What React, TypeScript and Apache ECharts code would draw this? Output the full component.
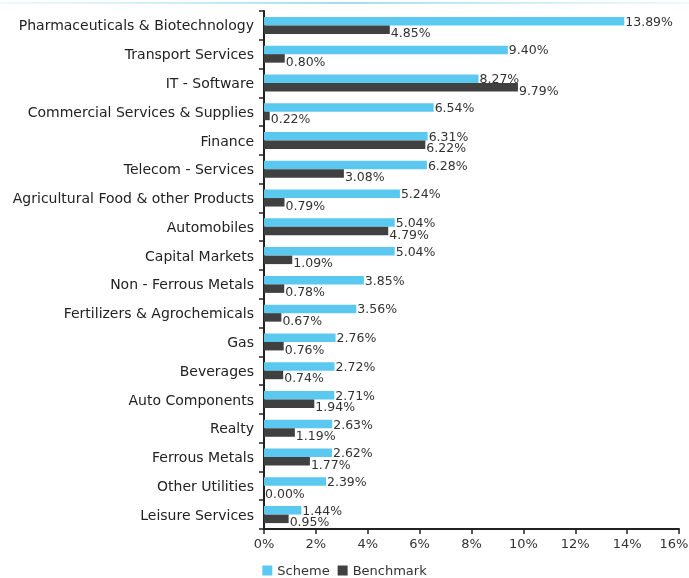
import React, { useEffect, useRef } from "react";
import * as echarts from "echarts";

const categories = [
  "Pharmaceuticals & Biotechnology",
  "Transport Services",
  "IT - Software",
  "Commercial Services & Supplies",
  "Finance",
  "Telecom - Services",
  "Agricultural Food & other Products",
  "Automobiles",
  "Capital Markets",
  "Non - Ferrous Metals",
  "Fertilizers & Agrochemicals",
  "Gas",
  "Beverages",
  "Auto Components",
  "Realty",
  "Ferrous Metals",
  "Other Utilities",
  "Leisure Services",
];
const schemeValues = [13.89, 9.4, 8.27, 6.54, 6.31, 6.28, 5.24, 5.04, 5.04, 3.85, 3.56, 2.76, 2.72, 2.71, 2.63, 2.62, 2.39, 1.44];
const benchmarkValues = [4.85, 0.8, 9.79, 0.22, 6.22, 3.08, 0.79, 4.79, 1.09, 0.78, 0.67, 0.76, 0.74, 1.94, 1.19, 1.77, 0.0, 0.95];
const seriesNames = ["Scheme", "Benchmark"];

const FONT = "DejaVu Sans";

export default function App() {
  const ref = useRef<HTMLDivElement>(null);
  useEffect(() => {
    if (!ref.current) return;
    const chart = echarts.init(ref.current, null, { renderer: "svg" });
    const labelStyle = {
      show: true,
      position: "right" as const,
      distance: 1,
      color: "#333",
      fontSize: 12.5,
      fontFamily: FONT,
      formatter: (p: any) => Number(p.value).toFixed(2) + "%",
    };
    chart.setOption({
      animation: false,
      textStyle: { fontFamily: FONT },
      graphic: [
        {
          type: "rect",
          left: 0,
          top: 2,
          shape: { width: 689, height: 2 },
          style: {
            fill: new echarts.graphic.LinearGradient(0, 0, 1, 0, [
              { offset: 0, color: "rgba(200,235,248,0.3)" },
              { offset: 0.5, color: "rgba(160,220,242,1)" },
              { offset: 1, color: "rgba(200,235,248,0.3)" },
            ]),
          },
        },
      ],
      legend: {
        top: 559,
        left: "center",
        itemWidth: 10,
        itemHeight: 10,
        itemGap: 8,
        icon: "rect",
        textStyle: { color: "#333", fontSize: 13, fontFamily: FONT },
        data: seriesNames,
      },
      grid: {
        left: 264,
        right: 10,
        top: 11,
        bottom: 49,
        containLabel: false,
        outerBoundsMode: "none",
      },
      xAxis: {
        type: "value",
        min: 0,
        max: 16,
        interval: 2,
        axisLine: { show: true, lineStyle: { color: "#222", width: 2 } },
        axisTick: { show: true, length: 5, lineStyle: { color: "#222", width: 1.5 } },
        splitLine: { show: false },
        axisLabel: {
          color: "#333",
          fontSize: 13,
          margin: 8,
          fontFamily: FONT,
          formatter: (v: number) => (v === 16 ? "{r|" + v + "%}" : v + "%"),
          rich: {
            r: { fontSize: 13, color: "#333", fontFamily: FONT, padding: [0, 10, 0, 0] },
          },
        },
      },
      yAxis: {
        type: "category",
        inverse: true,
        data: categories,
        axisLine: { show: true, lineStyle: { color: "#222", width: 2 } },
        axisTick: { show: true, length: 5, lineStyle: { color: "#222", width: 1.5 } },
        axisLabel: { color: "#222", fontSize: 14, margin: 10, fontFamily: FONT },
      },
      series: [
        {
          name: seriesNames[0],
          type: "bar",
          data: schemeValues,
          itemStyle: { color: "#5BC8F0" },
          barGap: "0%",
          barCategoryGap: "41%",
          label: labelStyle,
        },
        {
          name: seriesNames[1],
          type: "bar",
          data: benchmarkValues,
          itemStyle: { color: "#404040" },
          barGap: "0%",
          barCategoryGap: "41%",
          label: { ...labelStyle, offset: [0, 3] },
        },
      ],
    });
    return () => chart.dispose();
  }, []);
  return (
    <div
      ref={ref}
      style={{ position: "fixed", left: 0, top: 0, width: 689, height: 578 }}
    />
  );
}
